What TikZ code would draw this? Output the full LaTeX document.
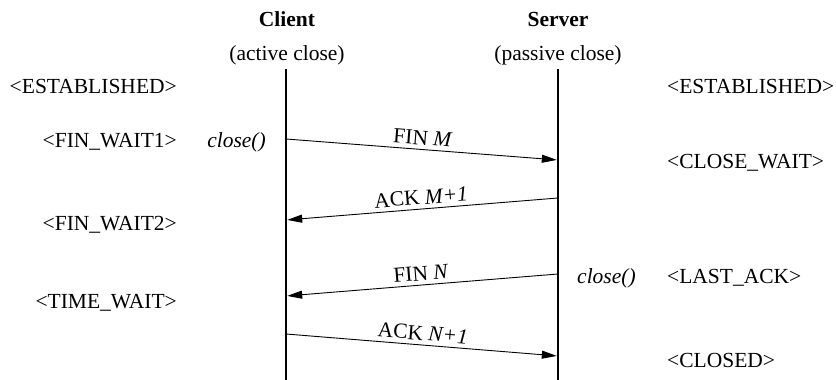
\documentclass[tikz,border=0pt]{standalone}
\usepackage{fontspec}
\setmainfont{Liberation Serif}
\usetikzlibrary{arrows.meta}
\begin{document}
\begin{tikzpicture}[x=1pt,y=-1pt,
  txt/.style={inner sep=0pt, font=\fontsize{21.5}{24}\selectfont},
  lifeline/.style={line width=2.4pt},
  msg/.style={line width=0.9pt, shorten >=1.2pt, -{Triangle[length=15pt,width=8pt]}},
  lbl/.style={txt, sloped, above=4pt, midway}]
\useasboundingbox (0,0) rectangle (836,380);
% headers
\node[txt, anchor=base] (client) at (287,26) {\bfseries Client};
\node[txt, anchor=base] (clientsub) at (287,60) {(active close)};
\node[txt, anchor=base] (server) at (558,26) {\bfseries Server};
\node[txt, anchor=base] (serversub) at (558,60) {(passive close)};
% lifelines
\coordinate (ctop) at (286,69); \coordinate (cbot) at (286,380);
\coordinate (stop) at (558,69); \coordinate (sbot) at (558,380);
\draw[lifeline] (ctop) -- (cbot);
\draw[lifeline] (stop) -- (sbot);
% message endpoints
\coordinate (c1) at (286,139); \coordinate (s1) at (558,160);
\coordinate (s2) at (558,198); \coordinate (c2) at (286,220);
\coordinate (s3) at (558,274); \coordinate (c3) at (286,296);
\coordinate (c4) at (286,334); \coordinate (s4) at (558,356);
\draw[msg] (c1) -- node[lbl] (m1) {FIN \textit{M}} (s1);
\draw[msg] (s2) -- node[lbl] (m2) {ACK \textit{M+1}} (c2);
\draw[msg] (s3) -- node[lbl] (m3) {FIN \textit{N}} (c3);
\draw[msg] (c4) -- node[lbl] (m4) {ACK \textit{N+1}} (s4);
% client states
\node[txt, anchor=base east] (lest) at (177,93) {<ESTABLISHED>};
\node[txt, anchor=base east] (lfw1) at (177,147) {<FIN\_WAIT1>};
\node[txt, anchor=base east] (lfw2) at (177,230) {<FIN\_WAIT2>};
\node[txt, anchor=base east] (ltw) at (177,308) {<TIME\_WAIT>};
\node[txt, anchor=base east] (cclose) at (266,147) {\textit{close()}};
% server states
\node[txt, anchor=base west] (rest) at (667,93) {<ESTABLISHED>};
\node[txt, anchor=base west] (rcw) at (667,168) {<CLOSE\_WAIT>};
\node[txt, anchor=base west] (rla) at (667,283) {<LAST\_ACK>};
\node[txt, anchor=base west] (rcl) at (667,367) {<CLOSED>};
\node[txt, anchor=base west] (sclose) at (577,283) {\textit{close()}};
\end{tikzpicture}
\end{document}
